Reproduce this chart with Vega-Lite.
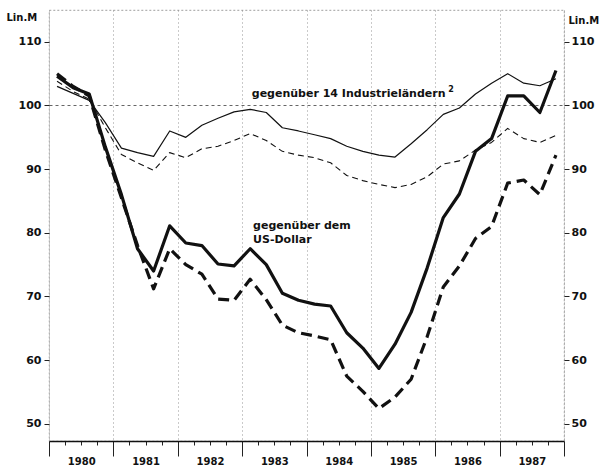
{
  "$schema": "https://vega.github.io/schema/vega-lite/v6.json",
  "width": 515,
  "height": 431,
  "autosize": "none",
  "padding": {"left": 49, "top": 10, "right": 38, "bottom": 26},
  "background": "white",
  "config": {
    "view": {"stroke": "#888", "strokeDash": [2, 2], "strokeWidth": 0.8},
    "font": "DejaVu Sans",
    "axis": {"labelFont": "DejaVu Sans", "labelFontWeight": "bold", "labelColor": "#111", "tickColor": "#222", "titleFont": "DejaVu Sans", "titleFontWeight": "bold", "titleColor": "#111"}
  },
  "datasets": {
    "series": [
      {"t": 1980.125, "v": 103.0, "s": "N14"}, {"t": 1980.375, "v": 101.9, "s": "N14"}, {"t": 1980.625, "v": 100.8, "s": "N14"}, {"t": 1980.875, "v": 97.3, "s": "N14"},
      {"t": 1981.125, "v": 93.3, "s": "N14"}, {"t": 1981.375, "v": 92.6, "s": "N14"}, {"t": 1981.625, "v": 92.0, "s": "N14"}, {"t": 1981.875, "v": 96.0, "s": "N14"},
      {"t": 1982.125, "v": 95.0, "s": "N14"}, {"t": 1982.375, "v": 96.9, "s": "N14"}, {"t": 1982.625, "v": 98.0, "s": "N14"}, {"t": 1982.875, "v": 99.0, "s": "N14"},
      {"t": 1983.125, "v": 99.4, "s": "N14"}, {"t": 1983.375, "v": 98.9, "s": "N14"}, {"t": 1983.625, "v": 96.5, "s": "N14"}, {"t": 1983.875, "v": 96.0, "s": "N14"},
      {"t": 1984.125, "v": 95.4, "s": "N14"}, {"t": 1984.375, "v": 94.8, "s": "N14"}, {"t": 1984.625, "v": 93.6, "s": "N14"}, {"t": 1984.875, "v": 92.8, "s": "N14"},
      {"t": 1985.125, "v": 92.2, "s": "N14"}, {"t": 1985.375, "v": 91.9, "s": "N14"}, {"t": 1985.625, "v": 94.0, "s": "N14"}, {"t": 1985.875, "v": 96.2, "s": "N14"},
      {"t": 1986.125, "v": 98.6, "s": "N14"}, {"t": 1986.375, "v": 99.6, "s": "N14"}, {"t": 1986.625, "v": 101.8, "s": "N14"}, {"t": 1986.875, "v": 103.5, "s": "N14"},
      {"t": 1987.125, "v": 105.0, "s": "N14"}, {"t": 1987.375, "v": 103.5, "s": "N14"}, {"t": 1987.625, "v": 103.1, "s": "N14"}, {"t": 1987.875, "v": 104.2, "s": "N14"},

      {"t": 1980.125, "v": 103.8, "s": "R14"}, {"t": 1980.375, "v": 102.2, "s": "R14"}, {"t": 1980.625, "v": 101.0, "s": "R14"}, {"t": 1980.875, "v": 96.5, "s": "R14"},
      {"t": 1981.125, "v": 92.3, "s": "R14"}, {"t": 1981.375, "v": 91.0, "s": "R14"}, {"t": 1981.625, "v": 89.8, "s": "R14"}, {"t": 1981.875, "v": 92.6, "s": "R14"},
      {"t": 1982.125, "v": 91.8, "s": "R14"}, {"t": 1982.375, "v": 93.2, "s": "R14"}, {"t": 1982.625, "v": 93.6, "s": "R14"}, {"t": 1982.875, "v": 94.5, "s": "R14"},
      {"t": 1983.125, "v": 95.6, "s": "R14"}, {"t": 1983.375, "v": 94.5, "s": "R14"}, {"t": 1983.625, "v": 92.8, "s": "R14"}, {"t": 1983.875, "v": 92.2, "s": "R14"},
      {"t": 1984.125, "v": 91.8, "s": "R14"}, {"t": 1984.375, "v": 91.0, "s": "R14"}, {"t": 1984.625, "v": 89.0, "s": "R14"}, {"t": 1984.875, "v": 88.2, "s": "R14"},
      {"t": 1985.125, "v": 87.6, "s": "R14"}, {"t": 1985.375, "v": 87.1, "s": "R14"}, {"t": 1985.625, "v": 87.6, "s": "R14"}, {"t": 1985.875, "v": 88.8, "s": "R14"},
      {"t": 1986.125, "v": 90.8, "s": "R14"}, {"t": 1986.375, "v": 91.3, "s": "R14"}, {"t": 1986.625, "v": 93.0, "s": "R14"}, {"t": 1986.875, "v": 94.2, "s": "R14"},
      {"t": 1987.125, "v": 96.4, "s": "R14"}, {"t": 1987.375, "v": 94.8, "s": "R14"}, {"t": 1987.625, "v": 94.2, "s": "R14"}, {"t": 1987.875, "v": 95.3, "s": "R14"},

      {"t": 1980.125, "v": 104.6, "s": "NUS"}, {"t": 1980.375, "v": 102.8, "s": "NUS"}, {"t": 1980.625, "v": 101.8, "s": "NUS"}, {"t": 1980.875, "v": 93.5, "s": "NUS"},
      {"t": 1981.125, "v": 86.0, "s": "NUS"}, {"t": 1981.375, "v": 77.5, "s": "NUS"}, {"t": 1981.625, "v": 74.0, "s": "NUS"}, {"t": 1981.875, "v": 81.1, "s": "NUS"},
      {"t": 1982.125, "v": 78.4, "s": "NUS"}, {"t": 1982.375, "v": 78.0, "s": "NUS"}, {"t": 1982.625, "v": 75.1, "s": "NUS"}, {"t": 1982.875, "v": 74.8, "s": "NUS"},
      {"t": 1983.125, "v": 77.5, "s": "NUS"}, {"t": 1983.375, "v": 75.0, "s": "NUS"}, {"t": 1983.625, "v": 70.5, "s": "NUS"}, {"t": 1983.875, "v": 69.4, "s": "NUS"},
      {"t": 1984.125, "v": 68.8, "s": "NUS"}, {"t": 1984.375, "v": 68.5, "s": "NUS"}, {"t": 1984.625, "v": 64.3, "s": "NUS"}, {"t": 1984.875, "v": 61.9, "s": "NUS"},
      {"t": 1985.125, "v": 58.7, "s": "NUS"}, {"t": 1985.375, "v": 62.5, "s": "NUS"}, {"t": 1985.625, "v": 67.5, "s": "NUS"}, {"t": 1985.875, "v": 74.5, "s": "NUS"},
      {"t": 1986.125, "v": 82.4, "s": "NUS"}, {"t": 1986.375, "v": 86.1, "s": "NUS"}, {"t": 1986.625, "v": 92.8, "s": "NUS"}, {"t": 1986.875, "v": 94.8, "s": "NUS"},
      {"t": 1987.125, "v": 101.5, "s": "NUS"}, {"t": 1987.375, "v": 101.5, "s": "NUS"}, {"t": 1987.625, "v": 98.9, "s": "NUS"}, {"t": 1987.875, "v": 105.5, "s": "NUS"},

      {"t": 1980.125, "v": 105.0, "s": "RUS"}, {"t": 1980.375, "v": 103.0, "s": "RUS"}, {"t": 1980.625, "v": 101.5, "s": "RUS"}, {"t": 1980.875, "v": 93.0, "s": "RUS"},
      {"t": 1981.125, "v": 85.5, "s": "RUS"}, {"t": 1981.375, "v": 78.0, "s": "RUS"}, {"t": 1981.625, "v": 71.2, "s": "RUS"}, {"t": 1981.875, "v": 77.5, "s": "RUS"},
      {"t": 1982.125, "v": 75.0, "s": "RUS"}, {"t": 1982.375, "v": 73.5, "s": "RUS"}, {"t": 1982.625, "v": 69.6, "s": "RUS"}, {"t": 1982.875, "v": 69.4, "s": "RUS"},
      {"t": 1983.125, "v": 72.7, "s": "RUS"}, {"t": 1983.375, "v": 69.5, "s": "RUS"}, {"t": 1983.625, "v": 65.5, "s": "RUS"}, {"t": 1983.875, "v": 64.3, "s": "RUS"},
      {"t": 1984.125, "v": 63.8, "s": "RUS"}, {"t": 1984.375, "v": 63.2, "s": "RUS"}, {"t": 1984.625, "v": 57.5, "s": "RUS"}, {"t": 1984.875, "v": 55.1, "s": "RUS"},
      {"t": 1985.125, "v": 52.4, "s": "RUS"}, {"t": 1985.375, "v": 54.2, "s": "RUS"}, {"t": 1985.625, "v": 57.0, "s": "RUS"}, {"t": 1985.875, "v": 63.7, "s": "RUS"},
      {"t": 1986.125, "v": 71.5, "s": "RUS"}, {"t": 1986.375, "v": 74.8, "s": "RUS"}, {"t": 1986.625, "v": 79.1, "s": "RUS"}, {"t": 1986.875, "v": 81.0, "s": "RUS"},
      {"t": 1987.125, "v": 87.8, "s": "RUS"}, {"t": 1987.375, "v": 88.3, "s": "RUS"}, {"t": 1987.625, "v": 86.0, "s": "RUS"}, {"t": 1987.875, "v": 92.2, "s": "RUS"}
    ],
    "labels": [
      {"t": 1983.15, "v": 101.3, "text": "gegenüber 14 Industrieländern", "fs": 11},
      {"t": 1986.2, "v": 102.1, "text": "2", "fs": 8},
      {"t": 1983.17, "v": 80.6, "text": "gegenüber dem", "fs": 11},
      {"t": 1983.17, "v": 78.4, "text": "US-Dollar", "fs": 11}
    ]
  },
  "layer": [
    {
      "data": {"name": "series"},
      "mark": {"type": "line", "strokeOpacity": 0},
      "encoding": {
        "x": {"field": "t", "type": "quantitative", "scale": {"domain": [1980, 1988], "nice": false, "zero": false},
          "axis": {"orient": "bottom", "values": [1980, 1981, 1982, 1983, 1984, 1985, 1986, 1987, 1988], "grid": true, "gridDash": [1, 3], "gridColor": "#888", "gridWidth": 0.9, "tickSize": 15, "tickWidth": 1, "labels": false, "domain": false, "title": null}},
        "y": {"field": "v", "type": "quantitative", "scale": {"domain": [47.3, 115], "nice": false, "zero": false},
          "axis": {"orient": "left", "values": [100], "grid": true, "gridDash": [3, 3], "gridColor": "#555", "gridWidth": 0.9, "ticks": false, "labels": false, "domain": false, "title": null}}
      }
    },
    {
      "data": {"name": "series"},
      "mark": {"type": "line", "strokeOpacity": 0},
      "encoding": {
        "x": {"field": "t", "type": "quantitative",
          "axis": {"orient": "bottom", "values": [1980.25, 1980.5, 1980.75, 1981.25, 1981.5, 1981.75, 1982.25, 1982.5, 1982.75, 1983.25, 1983.5, 1983.75, 1984.25, 1984.5, 1984.75, 1985.25, 1985.5, 1985.75, 1986.25, 1986.5, 1986.75, 1987.25, 1987.5, 1987.75], "grid": false, "tickSize": 4, "tickWidth": 1, "labels": false, "domain": true, "domainColor": "#111", "domainWidth": 1.6, "title": null}},
        "y": {"field": "v", "type": "quantitative",
          "axis": {"orient": "left", "values": [50, 60, 70, 80, 90, 100, 110], "grid": false, "tickSize": 5, "tickWidth": 1, "labelFontSize": 11, "labelPadding": 3, "domain": false,
            "title": "Lin.M", "titleAngle": 0, "titleAlign": "left", "titleBaseline": "alphabetic", "titleX": -43, "titleY": 10, "titleFontSize": 10}}
      }
    },
    {
      "data": {"name": "series"},
      "mark": {"type": "line", "strokeOpacity": 0},
      "encoding": {
        "x": {"field": "t", "type": "quantitative",
          "axis": {"orient": "bottom", "values": [1980.5, 1981.5, 1982.5, 1983.5, 1984.5, 1985.5, 1986.5, 1987.5], "labelExpr": "floor(datum.value)", "ticks": false, "grid": false, "domain": false, "labelFontSize": 10, "labelPadding": 15, "title": null}},
        "y": {"field": "v", "type": "quantitative",
          "axis": {"orient": "right", "values": [50, 60, 70, 80, 90, 100, 110], "grid": false, "tickSize": 5, "tickWidth": 1, "labelFontSize": 11, "labelPadding": 2, "domain": false,
            "title": "Lin.M", "titleAngle": 0, "titleAlign": "left", "titleBaseline": "alphabetic", "titleX": 4, "titleY": 13, "titleFontSize": 10}}
      }
    },
    {
      "data": {"name": "series"},
      "transform": [{"filter": "datum.s === 'N14'"}],
      "mark": {"type": "line", "color": "#111", "strokeWidth": 1.2, "strokeJoin": "round"},
      "encoding": {
        "x": {"field": "t", "type": "quantitative", "axis": null},
        "y": {"field": "v", "type": "quantitative", "axis": null}
      }
    },
    {
      "data": {"name": "series"},
      "transform": [{"filter": "datum.s === 'R14'"}],
      "mark": {"type": "line", "color": "#111", "strokeWidth": 1.1, "strokeDash": [6, 4], "strokeJoin": "round"},
      "encoding": {
        "x": {"field": "t", "type": "quantitative", "axis": null},
        "y": {"field": "v", "type": "quantitative", "axis": null}
      }
    },
    {
      "data": {"name": "series"},
      "transform": [{"filter": "datum.s === 'NUS'"}],
      "mark": {"type": "line", "color": "#111", "strokeWidth": 3.2, "strokeJoin": "round"},
      "encoding": {
        "x": {"field": "t", "type": "quantitative", "axis": null},
        "y": {"field": "v", "type": "quantitative", "axis": null}
      }
    },
    {
      "data": {"name": "series"},
      "transform": [{"filter": "datum.s === 'RUS'"}],
      "mark": {"type": "line", "color": "#111", "strokeWidth": 3.2, "strokeDash": [11, 6], "strokeJoin": "round"},
      "encoding": {
        "x": {"field": "t", "type": "quantitative", "axis": null},
        "y": {"field": "v", "type": "quantitative", "axis": null}
      }
    },
    {
      "data": {"name": "labels"},
      "mark": {"type": "text", "align": "left", "baseline": "alphabetic", "font": "DejaVu Sans", "fontWeight": "bold", "color": "#111"},
      "encoding": {
        "x": {"field": "t", "type": "quantitative", "axis": null},
        "y": {"field": "v", "type": "quantitative", "axis": null},
        "text": {"field": "text"},
        "size": {"field": "fs", "type": "quantitative", "scale": null}
      }
    }
  ],
  "resolve": {"axis": {"x": "independent", "y": "independent"}}
}
